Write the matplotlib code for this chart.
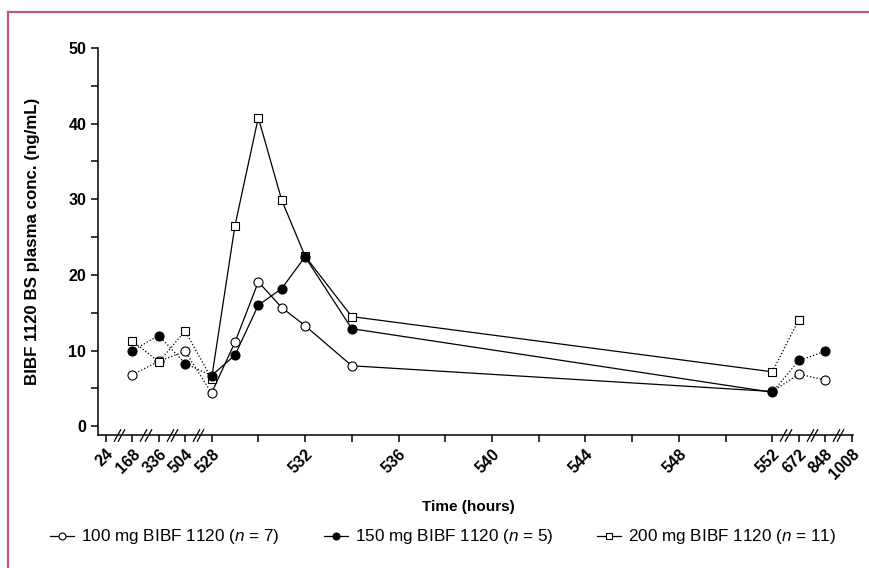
import matplotlib
matplotlib.use("Agg")
import matplotlib.pyplot as plt
from matplotlib.lines import Line2D

plt.rcParams['font.family'] = ['Liberation Sans', 'DejaVu Sans']
plt.rcParams['mathtext.fontset'] = 'custom'
plt.rcParams['mathtext.rm'] = 'Liberation Sans'
plt.rcParams['mathtext.it'] = 'Liberation Sans:italic'

# sampling times (hours) and plasma concentrations (ng/mL)
t_100 = [168, 336, 504, 528, 529, 530, 531, 532, 534, 552, 672, 848]
c_100 = [6.8, 8.6, 9.9, 4.4, 11.1, 19.1, 15.7, 13.3, 8.0, 4.6, 6.9, 6.1]
t_150 = [168, 336, 504, 528, 529, 530, 531, 532, 534, 552, 672, 848]
c_150 = [10.0, 12.0, 8.3, 6.7, 9.4, 16.0, 18.2, 22.4, 12.9, 4.5, 8.7, 9.9]
t_200 = [168, 336, 504, 528, 529, 530, 531, 532, 534, 552, 672]
c_200 = [11.3, 8.5, 12.6, 6.3, 26.5, 40.8, 29.9, 22.5, 14.5, 7.2, 14.1]

labels = ['100 mg BIBF 1120 ($\\it{n}$ = 7)',
          '150 mg BIBF 1120 ($\\it{n}$ = 5)',
          '200 mg BIBF 1120 ($\\it{n}$ = 11)']

tick_hours = [24, 168, 336, 504, 528, 532, 536, 540, 544, 548, 552, 672, 848, 1008]
minor_hours = [530, 534, 538, 542, 546, 550]

# broken axis: the continuous part is 528-552, the rest sit at fixed steps
step = 1.13
left_hours = [24, 168, 336, 504]
right_hours = [672, 848, 1008]


def pos(h):
    if h in left_hours:
        return -(len(left_hours) - left_hours.index(h)) * step
    if h in right_hours:
        return 24 + (right_hours.index(h) + 1) * step
    return h - 528


fig = plt.figure(figsize=(8.69, 5.68), dpi=100)
ax = fig.add_axes([98 / 869, 1 - 435 / 568, (853 - 98) / 869, (435 - 48) / 568])

series = [
    (t_100, c_100, 'o', 'white', 1),
    (t_200, c_200, 's', 'white', 2),
    (t_150, c_150, 'o', 'black', 3),
]
for t, c, m, fc, z in series:
    x = [pos(h) for h in t]
    i0 = t.index(528)
    i1 = t.index(552)
    lw = 0.9
    ax.plot(x[:i0 + 1], c[:i0 + 1], ':', color='black', lw=lw, zorder=z)
    ax.plot(x[i0:i1 + 1], c[i0:i1 + 1], '-', color='black', lw=lw, zorder=z)
    ax.plot(x[i1:], c[i1:], ':', color='black', lw=lw, zorder=z)
    ms = 6.5 if m == 'o' else 6.2
    ax.plot(x, c, m, ms=ms, mfc=fc, mec='black', mew=0.8, ls='none', zorder=z + 5)

ax.set_xlim(-4.86, 27.45)
ax.set_ylim(-1.15, 50)
ax.spines['top'].set_visible(False)
ax.spines['right'].set_visible(False)
ax.spines['left'].set_linewidth(1.1)
ax.spines['bottom'].set_linewidth(1.1)

ax.set_yticks([0, 10, 20, 30, 40, 50])
ax.set_yticks([5, 15, 25, 35, 45], minor=True)
ax.set_xticks([pos(h) for h in tick_hours])
ax.set_xticklabels([str(h) for h in tick_hours], rotation=45, ha='right',
                   rotation_mode='anchor', fontweight='bold', fontsize=11.5)
ax.set_xticks([pos(h) for h in minor_hours], minor=True)
for lab in ax.get_yticklabels():
    lab.set_fontweight('bold')
    lab.set_fontsize(11.5)
ax.tick_params(axis='both', which='both', direction='out', length=5, width=1.1)
ax.tick_params(axis='x', which='major', pad=3)

# break marks
breaks = [(pos(a) + pos(b)) / 2 for a, b in zip(left_hours + [552] + right_hours[:-1],
                                                 left_hours[1:] + [528] + right_hours)]
for bx in breaks:
    for dx in (-0.09, 0.09):
        ax.plot([bx + dx], [0], marker=[(-1, -1.8), (1, 1.8)], ms=9, mew=0.9,
                color='black', transform=ax.get_xaxis_transform(), clip_on=False)

ax.set_ylabel('BIBF 1120 BS plasma conc. (ng/mL)', fontweight='bold', fontsize=12.2)
ax.yaxis.set_label_coords(-0.077, 0.5)
ax.set_xlabel('Time (hours)', fontweight='bold', fontsize=11)
ax.xaxis.set_label_coords(0.49, -0.168)

handles = [
    Line2D([], [], color='black', lw=0.9, marker='o', ms=5, mfc='white', mec='black', mew=0.8),
    Line2D([], [], color='black', lw=0.9, marker='o', ms=5, mfc='black', mec='black', mew=0.8),
    Line2D([], [], color='black', lw=0.9, marker='s', ms=5, mfc='white', mec='black', mew=0.8),
]
fig.legend(handles, labels, loc='center', bbox_to_anchor=(0.51, 1 - 537 / 568),
           ncol=3, frameon=False, fontsize=12.3, handlelength=1.4, handletextpad=0.4,
           columnspacing=2.6, borderpad=0)

# pink frame
frame_c = '#c4587a'
fig.add_artist(Line2D([8 / 869, 8 / 869], [0, 1 - 12 / 568], color=frame_c, lw=1.6,
                      transform=fig.transFigure))
fig.add_artist(Line2D([8 / 869, 1], [1 - 12 / 568, 1 - 12 / 568], color=frame_c, lw=1.6,
                      transform=fig.transFigure))

fig.savefig('out.png', dpi=100)
